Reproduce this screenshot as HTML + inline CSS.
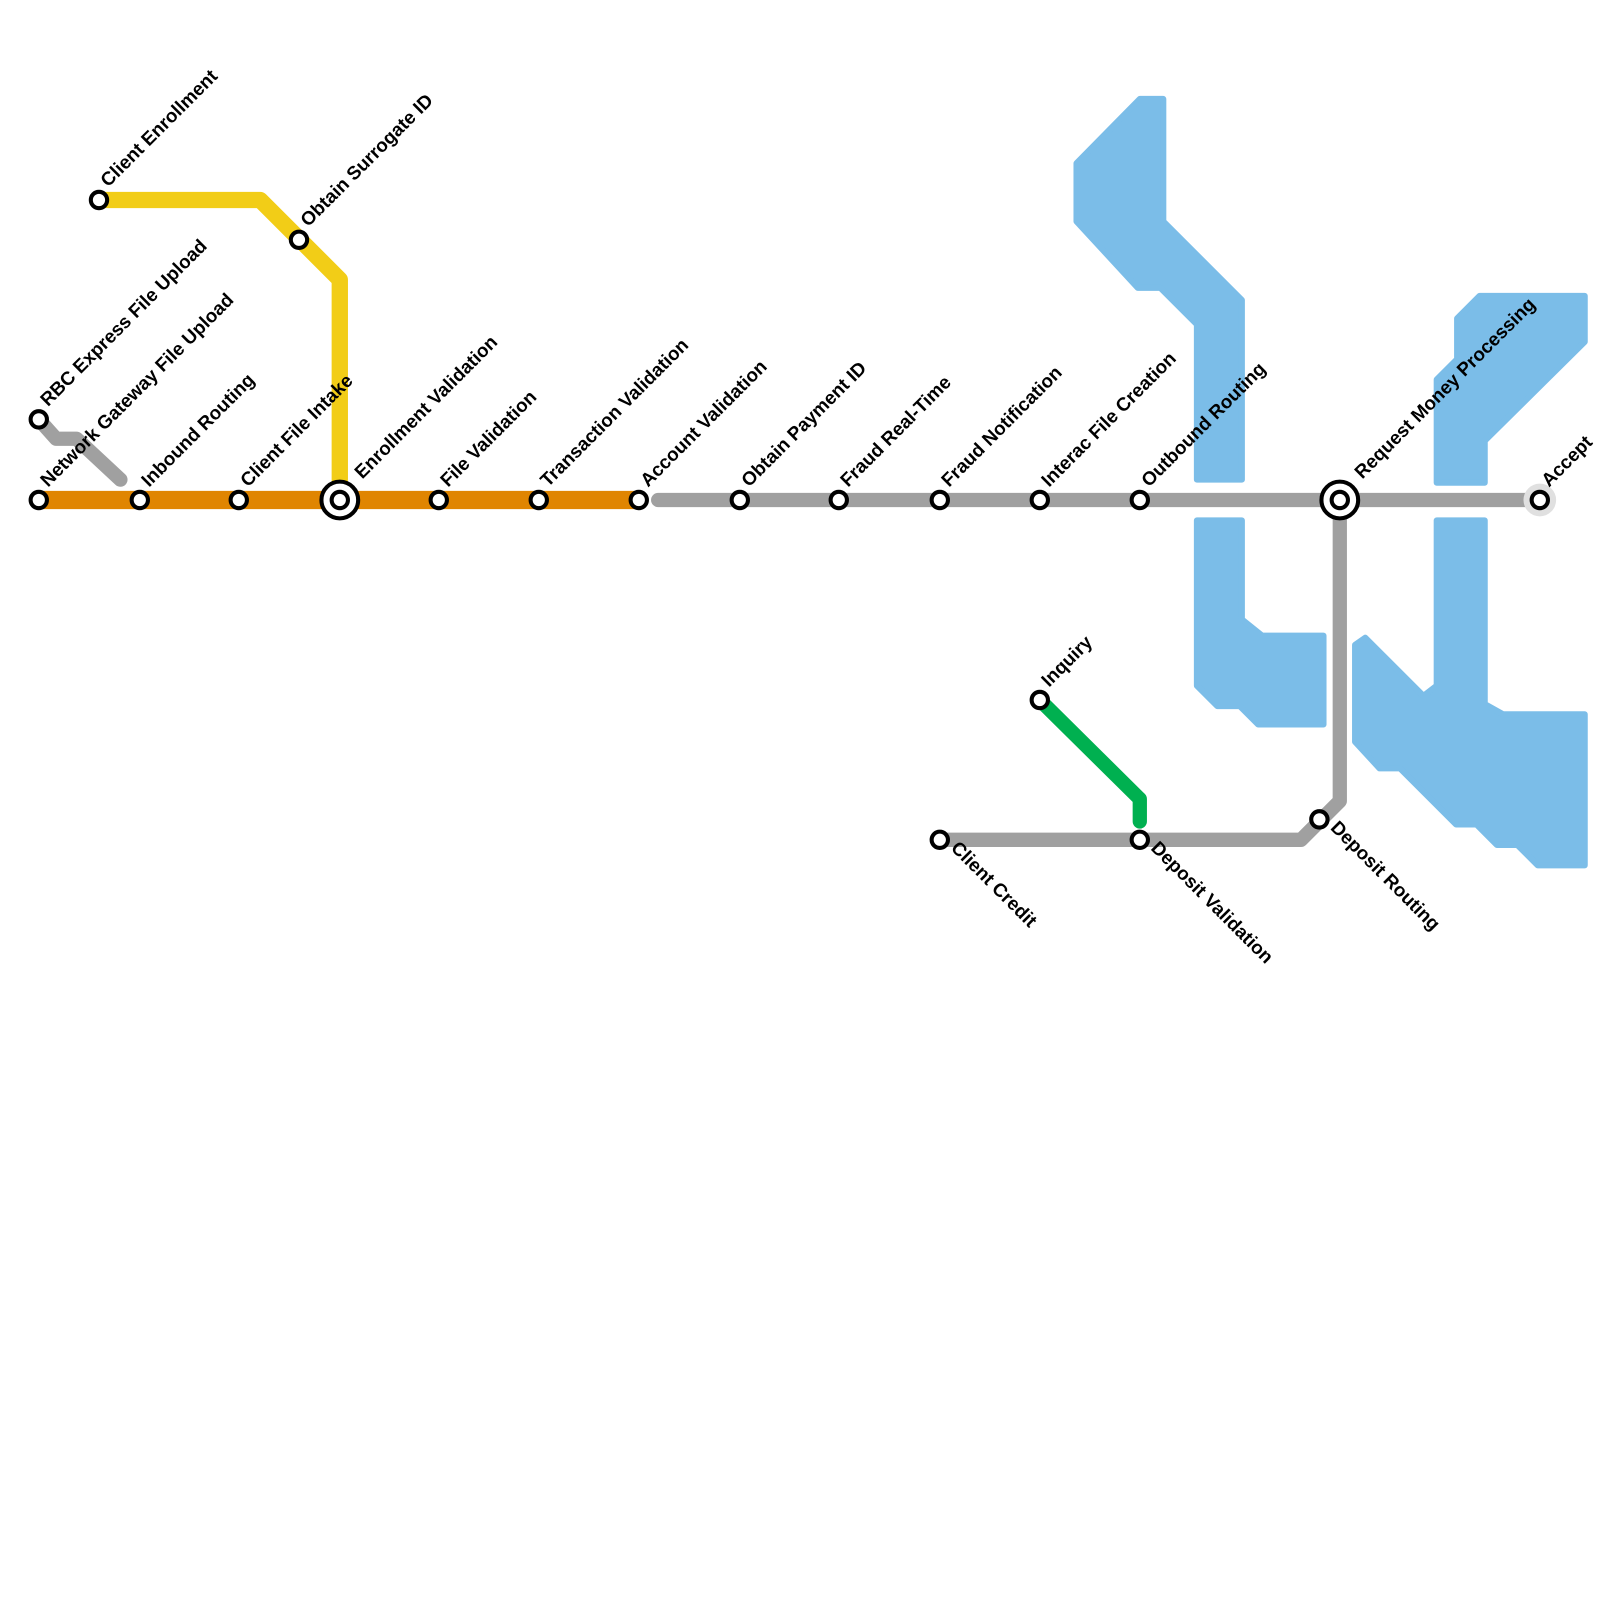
<!DOCTYPE html>
<html><head><meta charset="utf-8"><style>
html,body{margin:0;padding:0;background:#fff;}
svg{display:block;}
text{font-family:"Liberation Sans",sans-serif;font-weight:bold;font-size:18.5px;fill:#000;}
</style></head><body>
<svg width="1600" height="1600" viewBox="0 0 1568 1568" xmlns="http://www.w3.org/2000/svg">
<g fill="#7bbde8" stroke="#7bbde8" stroke-width="6" stroke-linejoin="round">
<polygon points="1055,160 1117,97 1140,97 1140,217 1217,294 1217,470 1173,470 1173,318 1137,282 1115,282 1055,217"/>
<polygon points="1173,510 1217,510 1217,607 1237,623 1297,623 1297,710 1233,710 1215,692 1193,692 1173,672"/>
<polygon points="1408,372 1428,352 1428,312 1450,290 1553,290 1553,335 1455,432 1455,473 1408,473"/>
<polygon points="1408,510 1455,510 1455,690 1473,700 1553,700 1553,848 1507,848 1487,828 1467,828 1447,808 1427,808 1372,753 1352,753 1328,727 1328,632 1338,625 1395,682 1408,672"/>
</g>
<g fill="none" stroke-linecap="round" stroke-linejoin="round">
<polyline points="38,411 55,430 75,430 118,470" stroke="#a0a0a0" stroke-width="14"/>
<polyline points="645,490 1510,490" stroke="#a0a0a0" stroke-width="14"/>
<polyline points="921,823 1275,823 1313,785 1313,490" stroke="#a0a0a0" stroke-width="14"/>
<polyline points="38,490 626,490" stroke="#e08500" stroke-width="18" stroke-linecap="butt"/>
<polyline points="97,196 255,196 333,274 333,470" stroke="#f2cd17" stroke-width="16"/>
<polyline points="1019,686 1117,783 1117,805" stroke="#00b050" stroke-width="14"/>
</g>
<circle cx="1509" cy="490" r="16" fill="#e0e0e0"/>
<g fill="#fff" stroke="#000" stroke-width="4">
<circle cx="38" cy="411" r="8"/><circle cx="97" cy="196" r="8"/><circle cx="293" cy="235" r="8"/>
<circle cx="38" cy="490" r="8"/><circle cx="137" cy="490" r="8"/><circle cx="234" cy="490" r="8"/>
<circle cx="333" cy="490" r="18"/><circle cx="333" cy="490" r="8"/>
<circle cx="430" cy="490" r="8"/><circle cx="528" cy="490" r="8"/><circle cx="626" cy="490" r="8"/>
<circle cx="725" cy="490" r="8"/><circle cx="822" cy="490" r="8"/><circle cx="921" cy="490" r="8"/>
<circle cx="1019" cy="490" r="8"/><circle cx="1117" cy="490" r="8"/>
<circle cx="1313" cy="490" r="18"/><circle cx="1313" cy="490" r="8"/>
<circle cx="1509" cy="490" r="8"/>
<circle cx="1019" cy="686" r="8"/><circle cx="921" cy="823" r="8"/><circle cx="1117" cy="823" r="8"/><circle cx="1293" cy="803" r="8"/>
</g>
<g>
<text transform="translate(47,399) rotate(-45)">RBC Express File Upload</text>
<text transform="translate(106,184) rotate(-45)">Client Enrollment</text>
<text transform="translate(302,223) rotate(-45)">Obtain Surrogate ID</text>
<text transform="translate(47,478) rotate(-45)">Network Gateway File Upload</text>
<text transform="translate(146,478) rotate(-45)">Inbound Routing</text>
<text transform="translate(243,478) rotate(-45)">Client File Intake</text>
<text transform="translate(355,470) rotate(-45)">Enrollment Validation</text>
<text transform="translate(439,478) rotate(-45)">File Validation</text>
<text transform="translate(537,478) rotate(-45)">Transaction Validation</text>
<text transform="translate(635,478) rotate(-45)">Account Validation</text>
<text transform="translate(734,478) rotate(-45)">Obtain Payment ID</text>
<text transform="translate(831,478) rotate(-45)">Fraud Real-Time</text>
<text transform="translate(930,478) rotate(-45)">Fraud Notification</text>
<text transform="translate(1028,478) rotate(-45)">Interac File Creation</text>
<text transform="translate(1126,478) rotate(-45)">Outbound Routing</text>
<text transform="translate(1335,470) rotate(-45)">Request Money Processing</text>
<text transform="translate(1518,478) rotate(-45)">Accept</text>
<text transform="translate(1028,674) rotate(-45)">Inquiry</text>
<text transform="translate(931,832) rotate(45)">Client Credit</text>
<text transform="translate(1127,832) rotate(45)">Deposit Validation</text>
<text transform="translate(1303,812) rotate(45)">Deposit Routing</text>
</g>
</svg>
</body></html>
